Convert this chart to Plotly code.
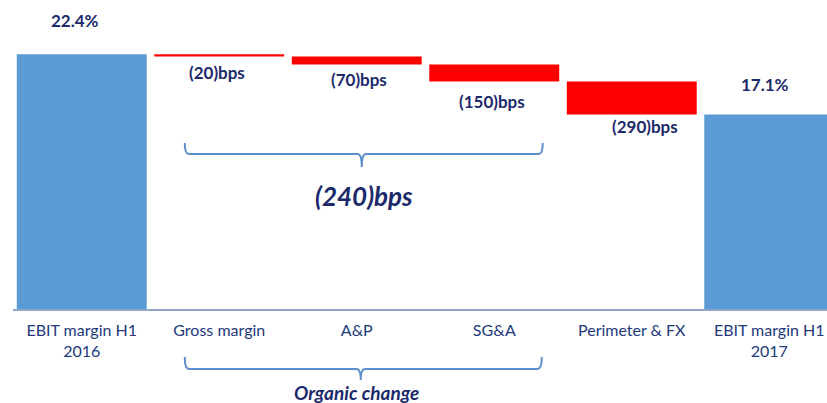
import plotly.graph_objects as go

# EBIT margin bridge, H1 2016 -> H1 2017 (values in % of sales)
categories = ["EBIT margin H1<br>2016", "Gross margin", "A&P", "SG&A",
              "Perimeter & FX", "EBIT margin H1<br>2017"]
start_margin = 22.4
changes_bps = [-20, -70, -150, -290]
end_margin = 17.1
organic_bps = -240

BLUE = "#5B9BD5"
RED = "#FF0000"
NAVY = "#1C2A6B"
TICK = "#22397A"
BRACE = "#5B8ECC"
FONT = "Lato"

# running levels for the floating bars
xs = list(range(len(categories)))
bar_base, bar_height, bar_color = [0], [start_margin], [BLUE]
level = start_margin
for c in changes_bps:
    new_level = level + c / 100
    bar_base.append(min(level, new_level))
    bar_height.append(abs(c) / 100)
    bar_color.append(RED)
    level = new_level
bar_base.append(0)
bar_height.append(end_margin)
bar_color.append(BLUE)

fig = go.Figure(go.Bar(
    x=xs, y=bar_height, base=bar_base, width=0.945,
    marker=dict(color=bar_color, line=dict(width=0)),
    hoverinfo="skip",
))

# value labels
def fmt_bps(v):
    return f"({abs(v)})bps" if v < 0 else f"{v}bps"

label_dx = [-7, -2, 2, -2, 13, -4]
label_dy = [34, -16, -15, -20, -12, 30]
texts = [f"{start_margin:.1f}%"] + [fmt_bps(c) for c in changes_bps] + [f"{end_margin:.1f}%"]
for i, t in enumerate(texts):
    if i in (0, len(texts) - 1):
        yv = bar_height[i]
    else:
        yv = bar_base[i]
    fig.add_annotation(x=xs[i], y=yv, text=f"<b>{t}</b>", showarrow=False,
                       xshift=label_dx[i], yshift=label_dy[i],
                       font=dict(family=FONT, size=17, color=NAVY))

# axis geometry helpers for the braces
PX_X0, PX_STEP = 82, 137.5
PLOT_BOTTOM, PLOT_H = 309, 273

def xd(px):
    return (px - PX_X0) / PX_STEP

def yp(py):
    return (PLOT_BOTTOM - py) / PLOT_H

def brace(x0, x1, xm, ytop, yh, ytip):
    d = 0.03
    X0, X1, XM = xd(x0), xd(x1), xd(xm)
    T, H, P = yp(ytop), yp(yh), yp(ytip)
    return (f"M {X0},{T} Q {X0},{H} {X0 + d},{H} L {XM - d},{H} "
            f"Q {XM},{H} {XM},{P} Q {XM},{H} {XM + d},{H} "
            f"L {X1 - d},{H} Q {X1},{H} {X1},{T}")

for path in (brace(185, 543, 362, 143, 154, 167),
             brace(185, 542, 361, 357, 369, 380)):
    fig.add_shape(type="path", path=path, xref="x", yref="paper",
                  line=dict(color=BRACE, width=2))

fig.add_annotation(x=xd(364), y=yp(196), xref="x", yref="paper",
                   text=f"<b><i>{fmt_bps(organic_bps)}</i></b>", showarrow=False,
                   font=dict(family=FONT, size=26, color=NAVY))
fig.add_annotation(x=xd(357), y=yp(379), xref="x", yref="paper", yanchor="top",
                   text="<b><i>Organic change</i></b>", showarrow=False,
                   font=dict(family=FONT, size=19, color=NAVY))

fig.update_layout(
    width=827, height=403,
    margin=dict(l=13, r=0, t=36, b=94),
    paper_bgcolor="white", plot_bgcolor="white",
    showlegend=False,
    xaxis=dict(range=[-0.5, 5.42], tickvals=xs, ticktext=categories,
               showgrid=False, zeroline=False, showline=True,
               linecolor="#8FA6C4", linewidth=1.5, ticks="",
               ticklabelstandoff=6,
               tickfont=dict(family=FONT, size=16, color=TICK)),
    yaxis=dict(range=[0, 24], visible=False),
)

fig.write_html("out.html")
